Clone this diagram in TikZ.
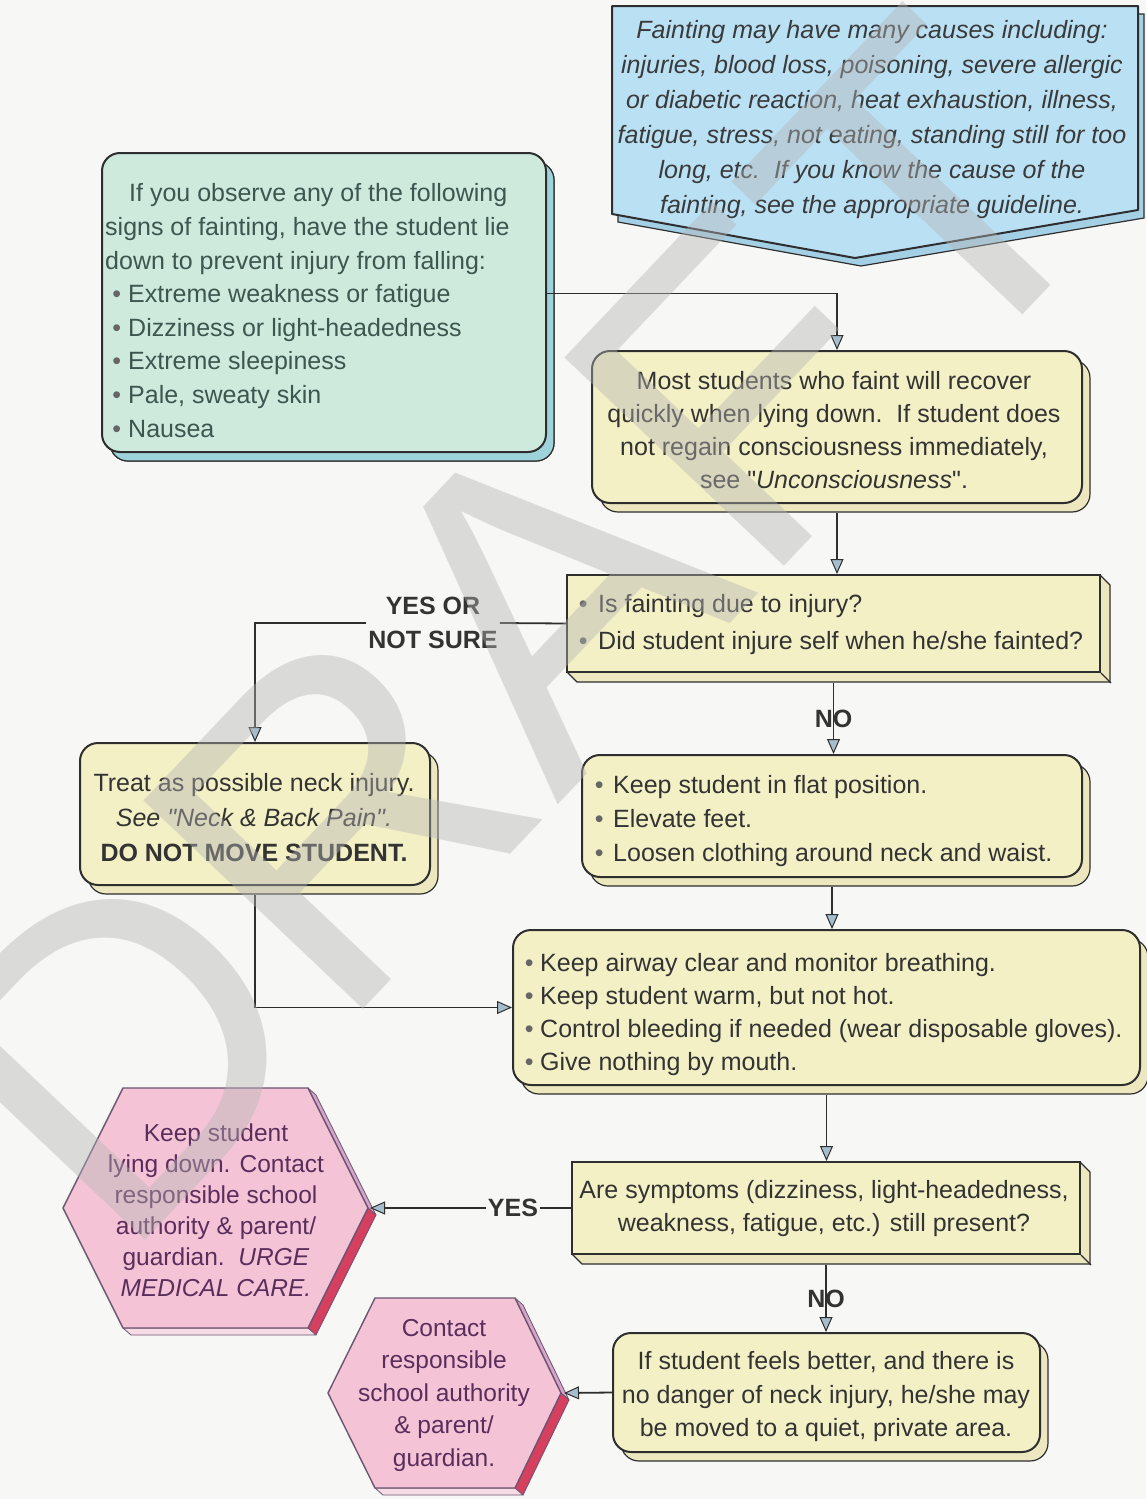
\documentclass[tikz,border=0pt]{standalone}
\usepackage{fontspec}
\setmainfont{Liberation Sans}
\usetikzlibrary{arrows.meta}

\definecolor{ink}{HTML}{333333}
\definecolor{edge}{HTML}{2E2E2E}
\definecolor{paper}{HTML}{F7F7F5}
\definecolor{skyfill}{HTML}{BAE0F4}
\definecolor{skyshade}{HTML}{A4D0E6}
\definecolor{skyink}{HTML}{3A3A3A}
\definecolor{mintfill}{HTML}{CDEADD}
\definecolor{mintshade}{HTML}{9FD3DC}
\definecolor{mintink}{HTML}{3D5650}
\definecolor{creamfill}{HTML}{F4F0C6}
\definecolor{creamshade}{HTML}{ECE7BF}
\definecolor{rosefill}{HTML}{F4C4D6}
\definecolor{roseshade}{HTML}{F7DCE6}
\definecolor{rosered}{HTML}{D4405E}
\definecolor{rosetop}{HTML}{D6A4C6}
\definecolor{roseline}{HTML}{6B5570}
\definecolor{roseink}{HTML}{5A2D5C}
\definecolor{tipfill}{HTML}{A6BECC}
\definecolor{stamp}{HTML}{B4B4B4}

% bullet set in a box of the given width
\newcommand{\blt}[1]{\makebox[#1][c]{\color{ink!75}\textbullet}}
% straight double quote
\newcommand{\sq}{\textquotedbl}

\begin{document}
\begin{tikzpicture}[x=1pt,y=-1pt,
  txt/.style={font=\fontsize{25}{33.5}\selectfont, text=ink, inner sep=0pt},
  lab/.style={font=\bfseries\fontsize{25}{33.5}\selectfont, text=ink, inner sep=2pt, align=center},
  card/.style={draw=edge, line width=2pt, fill=creamfill, inner sep=0pt, rounded corners=18pt,
     preaction={draw=edge, line width=1.2pt, fill=creamshade, transform canvas={xshift=8pt,yshift=-9pt}}},
  slab/.style={draw=edge, line width=2pt, fill=creamfill, inner sep=0pt},
  slabside/.style={draw=edge, line width=1.2pt, fill=creamshade, line join=round},
  arr/.style={draw=edge, line width=1.8pt, -{Triangle[length=15pt,width=13pt,fill=tipfill,line width=1pt]}},
  wire/.style={draw=edge, line width=1.8pt},
  hexface/.style={draw=roseline, line width=1.4pt, fill=rosefill, line join=round},
  hexside/.style={draw=roseline, line width=0.8pt, line join=round},
]

\fill[paper] (0,0) rectangle (1146,1499);
\useasboundingbox (0,0) rectangle (1146,1499);

% ---------- causes (off-page pentagon) ----------
\path[draw=edge, line width=2pt, fill=skyfill, line join=round,
      preaction={draw=edge, line width=1.2pt, fill=skyshade, transform canvas={xshift=6pt,yshift=-8pt}}]
  (612,6) -- (1138,6) -- (1138,210) -- (855,258) -- (612,214) -- cycle;
\node[txt, font=\itshape\fontsize{25}{35}\selectfont, text=skyink, align=center] (causesT) at (872,120)
  {Fainting may have many causes including:\\
   injuries, blood loss, poisoning, severe allergic\\
   or diabetic reaction, heat exhaustion, illness,\\
   fatigue, stress, not eating, standing still for too\\
   long, etc.\ \ If you know the cause of the\\
   fainting, see the appropriate guideline.};

% ---------- signs ----------
\node[card, fill=mintfill, preaction={draw=edge, line width=1.2pt, fill=mintshade, transform canvas={xshift=8pt,yshift=-9pt}},
      minimum width=444, minimum height=299] (signs) at (324,302.5) {};
\node[txt, font=\fontsize{25}{33.6}\selectfont, text=mintink, align=left, anchor=west] (signsT) at (105,310.5)
  {\hspace*{24pt}If you observe any of the following\\
   signs of fainting, have the student lie\\
   down to prevent injury from falling:\\
   \blt{23pt}Extreme weakness or fatigue\\
   \blt{23pt}Dizziness or light-headedness\\
   \blt{23pt}Extreme sleepiness\\
   \blt{23pt}Pale, sweaty skin\\
   \blt{23pt}Nausea};

% ---------- recover ----------
\node[card, minimum width=490, minimum height=152] (recover) at (837,427) {};
\node[txt, font=\fontsize{25}{33}\selectfont, align=center] (recoverT) at (834,430.5)
  {Most students who faint will recover\\
   quickly when lying down.\ \ If student does\\
   not regain consciousness immediately,\\
   see \sq\textit{Unconsciousness}\sq.};

% ---------- injury question ----------
\path[slabside] (567,575) ++(533,0) -- ++(10,10) -- ++(0,97) -- ++(-533,0) -- ++(-10,-10) -- ++(533,0) -- cycle;
\node[slab, minimum width=533, minimum height=97] (inj) at (833.5,623.5) {};
\draw[edge, line width=1.2pt] (inj.south east) -- ++(10,10);
\node[txt, font=\fontsize{25}{37}\selectfont, align=left, anchor=west] (injT) at (568,624.5)
  {\blt{30pt}Is fainting due to injury?\\
   \blt{30pt}Did student injure self when he/she fainted?};

% ---------- neck ----------
\node[card, minimum width=350, minimum height=142] (neck) at (255,814) {};
\node[txt, font=\fontsize{25}{35}\selectfont, align=center] (neckT) at (254,818)
  {Treat as possible neck injury.\\
   \textit{See \sq Neck \& Back Pain\sq.}\\
   \textbf{DO NOT MOVE STUDENT.}};

% ---------- flat position ----------
\node[card, minimum width=500, minimum height=122] (flat) at (832,816) {};
\node[txt, font=\fontsize{25}{34}\selectfont, align=left, anchor=west] (flatT) at (585,821)
  {\blt{28pt}Keep student in flat position.\\
   \blt{28pt}Elevate feet.\\
   \blt{28pt}Loosen clothing around neck and waist.};

% ---------- airway ----------
\node[card, minimum width=627, minimum height=155] (airway) at (826.5,1007.5) {};
\node[txt, font=\fontsize{25}{33}\selectfont, align=left, anchor=west] (airwayT) at (518,1014.5)
  {\blt{22pt}Keep airway clear and monitor breathing.\\
   \blt{22pt}Keep student warm, but not hot.\\
   \blt{22pt}Control bleeding if needed (wear disposable gloves).\\
   \blt{22pt}Give nothing by mouth.};

% ---------- symptoms question ----------
\path[slabside] (572,1162) ++(508,0) -- ++(10,10) -- ++(0,92) -- ++(-508,0) -- ++(-10,-10) -- ++(508,0) -- cycle;
\node[slab, minimum width=508, minimum height=92] (sympt) at (826,1208) {};
\draw[edge, line width=1.2pt] (sympt.south east) -- ++(10,10);
\node[txt, font=\fontsize{25}{33}\selectfont, align=center] (symptT) at (824,1209)
  {Are symptoms (dizziness, light-headedness,\\
   weakness, fatigue, etc.) still present?};

% ---------- moved to quiet area ----------
\node[card, minimum width=427, minimum height=119] (last) at (826.5,1392.5) {};
\node[txt, font=\fontsize{25}{33.5}\selectfont, align=center] (lastT) at (826,1397)
  {If student feels better, and there is\\
   no danger of neck injury, he/she may\\
   be moved to a quiet, private area.};

% ---------- hexagon: urge medical care ----------
\path[hexside, fill=rosetop]   (308,1088) -- (316,1095) -- (376,1215) -- (368,1208) -- cycle;
\path[hexside, fill=rosered]   (368,1208) -- (376,1215) -- (316,1335) -- (308,1328) -- cycle;
\path[hexside, fill=roseshade] (308,1328) -- (316,1335) -- (131,1335) -- (123,1328) -- cycle;
\path[hexface] (63,1208) -- (123,1088) -- (308,1088) -- (368,1208) -- (308,1328) -- (123,1328) -- cycle;
\coordinate (hexAtip) at (370,1208);
\node[txt, font=\fontsize{24.5}{31}\selectfont, text=roseink, align=center] (hexAT) at (216,1210)
  {Keep student\\
   lying down. Contact\\
   responsible school\\
   authority \& parent/\\
   guardian.\ \ \textit{URGE}\\
   \textit{MEDICAL CARE.}};

% ---------- hexagon: contact authority ----------
\path[hexside, fill=rosetop]   (515,1298) -- (523,1305) -- (569,1400) -- (561,1393) -- cycle;
\path[hexside, fill=rosered]   (561,1393) -- (569,1400) -- (523,1495) -- (515,1488) -- cycle;
\path[hexside, fill=roseshade] (515,1488) -- (523,1495) -- (383,1495) -- (375,1488) -- cycle;
\path[hexface] (328,1393) -- (375,1298) -- (515,1298) -- (561,1393) -- (515,1488) -- (375,1488) -- cycle;
\coordinate (hexBtip) at (564,1393);
\node[txt, font=\fontsize{24.5}{32.5}\selectfont, text=roseink, align=center] (hexBT) at (444,1395)
  {Contact\\
   responsible\\
   school authority\\
   \& parent/\\
   guardian.};

% ---------- branch labels ----------
\node[lab, fill=paper] (yesnot) at (433,623) {YES OR\\NOT SURE};
\node[lab, fill=paper] (yesB) at (513,1208) {YES};

% ---------- connectors ----------
\draw[arr] ([yshift=9pt]signs.east) -| (recover.north);
\draw[arr] ([yshift=-9pt]recover.south) -- (recover.south |- inj.north);
\draw[arr] ([yshift=-10pt]inj.south) -- (inj.south |- flat.north)
  node[lab, midway, inner sep=0pt] (noA) {NO};
\draw[arr] ([yshift=-9pt]flat.south) -- (flat.south |- airway.north);
\draw[arr] ([yshift=-9pt]airway.south) -- (airway.south |- sympt.north);
\draw[arr] ([yshift=-10pt]sympt.south) -- (sympt.south |- last.north)
  node[lab, midway, inner sep=0pt] (noB) {NO};
\draw[wire] (inj.west) -- (yesnot.east);
\draw[arr] (yesnot.west) -| (neck.north);
\draw[arr] ([yshift=-9pt]neck.south) |- (airway.west);
\draw[wire] (sympt.west) -- (yesB.east);
\draw[arr] (yesB.west) -- (hexAtip);
\draw[arr] (last.west) -- (hexBtip);

% ---------- watermark ----------
\node[font=\fontsize{440}{440}\selectfont, text=stamp, text opacity=0.42, inner sep=0pt, rotate=46.5]
  (stampmark) at (515,630) {DRAFT};

\end{tikzpicture}
\end{document}
